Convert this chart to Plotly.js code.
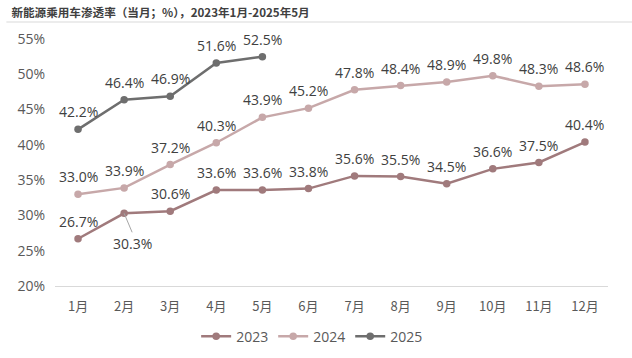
<!DOCTYPE html>
<html><head><meta charset="utf-8">
<script src="https://cdn.plot.ly/plotly-3.0.1.min.js"></script>
<style>body{margin:0;background:#fff}#c{width:632px;height:358px}</style>
</head><body><div id="c"></div>
<script>
const months = ["1月","2月","3月","4月","5月","6月","7月","8月","9月","10月","11月","12月"];
const s2023 = [26.7,30.3,30.6,33.6,33.6,33.8,35.6,35.5,34.5,36.6,37.5,40.4];
const s2024 = [33.0,33.9,37.2,40.3,43.9,45.2,47.8,48.4,48.9,49.8,48.3,48.6];
const s2025 = [42.2,46.4,46.9,51.6,52.5];
const yTicks = [20,25,30,35,40,45,50,55];
const labelFont = 'Open Sans, Liberation Sans, sans-serif';

function mk(name, ys, color){
  return {x: months.slice(0, ys.length), y: ys, name: name, type:'scatter',
    mode:'lines+markers',
    line:{color:color, width:2.5}, marker:{color:color, size:7.5},
    cliponaxis:false};
}
const data = [
  mk('2023', s2023, '#a07a7c'),
  mk('2024', s2024, '#c7a8a9'),
  mk('2025', s2025, '#6e6e6e')
];
const annotations = [];
[s2023, s2024, s2025].forEach((ys, k)=>{
  ys.forEach((v,i)=>{
    if (k===0 && i===1) {
      annotations.push({x: months[i], y: v, text: v.toFixed(1)+'%', showarrow:true, arrowhead:0,
        arrowcolor:'#a6a6a6', arrowwidth:1, ax:8, ay:19, yanchor:'top',
        font:{family:labelFont, size:14, color:'#404040'}});
    } else {
      annotations.push({x: months[i], y: v, text: v.toFixed(1)+'%', showarrow:false,
        yanchor:'bottom', yshift:6, font:{family:labelFont, size:14, color:'#404040'}});
    }
  });
});
const layout = {
  width:632, height:358,
  margin:{l:55, r:24, t:39, b:72, autoexpand:false},
  paper_bgcolor:'#fff', plot_bgcolor:'#fff',
  font:{family:labelFont, color:'#595959', size:14},
  title:{text:'<b>新能源乘用车渗透率（当月；%），2023年1月-2025年5月</b>',
    xref:'container', yref:'container', x:0.018, xanchor:'left', y:0.963, yanchor:'middle',
    font:{family:'Noto Sans CJK SC, sans-serif', size:11.6, color:'#404040'}},
  xaxis:{type:'category', range:[-0.5,11.5], showgrid:false, zeroline:false,
    showline:true, linecolor:'#d9d9d9', linewidth:1, ticks:'', ticklabelstandoff:8,
    tickfont:{family:'Noto Sans CJK SC, sans-serif', size:13, color:'#595959'}},
  yaxis:{range:[20,55], tickvals:yTicks, ticktext:yTicks.map(v=>v+'%'),
    showgrid:false, zeroline:false, showline:false, ticks:'', ticklabelstandoff:9,
    tickfont:{size:14, color:'#595959'}},
  showlegend:true,
  legend:{orientation:'h', x:0.465, xanchor:'center', y:-0.14, yanchor:'top',
    font:{size:14, color:'#595959'}, itemwidth:30},
  annotations: annotations,
  shapes:[
    {type:'line', xref:'paper', yref:'paper', x0:-0.088, x1:1.05, y0:1.069, y1:1.069,
     line:{color:'#e6e6e6', width:1.5}}
  ]
};
Plotly.newPlot('c', data, layout, {displayModeBar:false, staticPlot:true});
</script></body></html>
